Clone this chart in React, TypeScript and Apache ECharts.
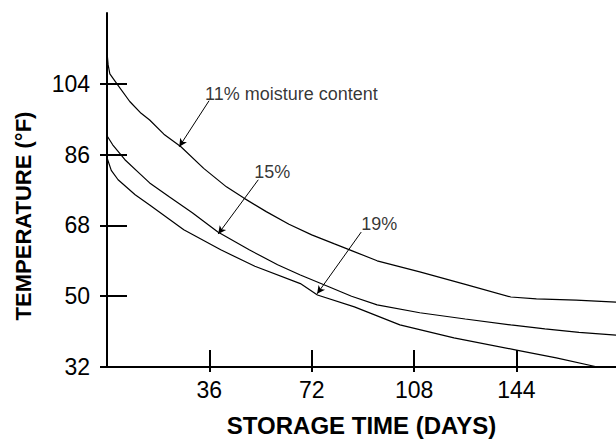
import React, { useEffect, useRef } from "react";
import * as echarts from "echarts";

// Storage time (days) vs. safe temperature (°F)
const moisture11: [number, number][] = [
  [0, 112], [0.4, 108.8], [1, 106.5], [3.5, 104], [8, 99.5], [12, 96.5], [15, 94.8],
  [20, 91.2], [26, 88], [34, 82.5], [42, 77.8], [48, 75], [56, 71.5], [64, 68.3],
  [72, 65.6], [80, 63.3], [86, 61.6], [95, 59], [110, 56.2], [126, 53], [142, 49.8],
  [151, 49.3], [165, 49], [179, 48.5],
];
const moisture15: [number, number][] = [
  [0, 90.8], [2, 88.5], [6.3, 84.7], [11.6, 81.1], [15, 78.8], [22, 75.2], [30, 71.2],
  [39, 66.3], [50, 61.8], [60, 58], [68, 55.4], [78, 52.4], [86, 50], [95, 47.8],
  [110, 45.8], [126, 44.2], [142, 42.7], [154, 41.7], [166, 40.8], [179, 40.1],
];
const moisture19: [number, number][] = [
  [0, 85.2], [1.5, 82], [3.9, 79.6], [9.9, 75.8], [15, 73.2], [27, 66.9], [40, 61.8],
  [52, 57.6], [68, 53.2], [74, 50.3], [87, 47.3], [103, 42.7], [122, 39.4], [144, 36.3],
  [158, 34.3], [172.5, 32],
];

const xTicks = [36, 72, 108, 144];
const yTicks = [32, 50, 68, 86, 104];

// annotation labels: [text, x, y] and arrows [[x1,y1],[x2,y2]] in data units
const labelTexts = ["11% moisture content", "15%", "19%"];
const labelPos: [number, number][] = [[34.5, 101.4], [51.8, 81.6], [89.4, 68.4]];
const arrows: [[number, number], [number, number]][] = [
  [[35.9, 99.7], [25.4, 88.0]],
  [[53.2, 79.6], [39.1, 65.8]],
  [[89.4, 66.3], [73.9, 50.6]],
];

const FONT = "'Liberation Sans', Arial, Helvetica, sans-serif";

export default function App() {
  const ref = useRef<HTMLDivElement>(null);
  useEffect(() => {
    if (!ref.current) return;
    const chart = echarts.init(ref.current, undefined, { renderer: "svg" });
    const lineSeries = (name: string, data: [number, number][]) => ({
      type: "line",
      name,
      data,
      showSymbol: false,
      symbol: "none",
      lineStyle: { color: "#000", width: 1.2 },
      silent: true,
    });
    const xBase = { type: "value", min: 0, max: 179, splitLine: { show: false } };
    const yBase = { type: "value", min: 32, max: 122, splitLine: { show: false } };
    chart.setOption({
      animation: false,
      backgroundColor: "#fff",
      grid: { left: 107, right: 0, top: 13, bottom: 75, containLabel: false },
      xAxis: [
        {
          ...xBase,
          position: "bottom",
          name: "STORAGE TIME (DAYS)",
          nameLocation: "middle",
          nameGap: 46,
          nameTextStyle: { fontFamily: FONT, fontSize: 24, fontWeight: "bold", color: "#000" },
          axisLine: { show: true, lineStyle: { color: "#000", width: 2 } },
          axisTick: { show: true, inside: true, length: 17, lineStyle: { color: "#000", width: 2 }, customValues: xTicks },
          axisLabel: { show: true, margin: 11, fontFamily: FONT, fontSize: 23, color: "#000", customValues: xTicks },
        },
        {
          ...xBase,
          position: "bottom",
          axisLine: { show: false },
          axisTick: { show: true, inside: false, length: 5, lineStyle: { color: "#000", width: 2 }, customValues: xTicks },
          axisLabel: { show: false },
        },
      ],
      yAxis: [
        {
          ...yBase,
          position: "left",
          axisLine: { show: true, lineStyle: { color: "#000", width: 2 } },
          axisTick: { show: true, inside: true, length: 20, lineStyle: { color: "#000", width: 2 }, customValues: yTicks },
          axisLabel: { show: true, margin: 17, fontFamily: FONT, fontSize: 23, color: "#000", customValues: yTicks },
        },
        {
          ...yBase,
          position: "left",
          axisLine: { show: false },
          axisTick: { show: true, inside: false, length: 7, lineStyle: { color: "#000", width: 2 }, customValues: yTicks },
          axisLabel: { show: false },
        },
      ],
      graphic: [
        {
          type: "text",
          x: 23,
          y: 216,
          rotation: Math.PI / 2,
          style: {
            text: "TEMPERATURE (°F)",
            fontFamily: FONT,
            fontSize: 22,
            fontWeight: "bold",
            fill: "#000",
            align: "center",
            verticalAlign: "middle",
          },
        },
      ],
      series: [
        lineSeries("11%", moisture11),
        lineSeries("15%", moisture15),
        lineSeries("19%", moisture19),
        {
          type: "scatter",
          name: "labels",
          data: labelPos.map((p, i) => ({ value: p, name: labelTexts[i] })),
          symbolSize: 0,
          silent: true,
          label: {
            show: true,
            position: "right",
            distance: 0,
            formatter: (p: any) => p.name,
            fontFamily: FONT,
            fontSize: 18,
            color: "#000",
          },
          markLine: {
            silent: true,
            symbol: ["none", "arrow"],
            symbolSize: [6, 8],
            label: { show: false },
            lineStyle: { color: "#000", width: 1, type: "solid" },
            data: arrows.map((a) => [{ coord: a[0] }, { coord: a[1] }]),
          },
        },
      ],
    });
    return () => chart.dispose();
  }, []);
  return (
    <div
      ref={ref}
      style={{ position: "fixed", left: 0, top: 0, width: 616, height: 442, background: "#fff" }}
    />
  );
}
